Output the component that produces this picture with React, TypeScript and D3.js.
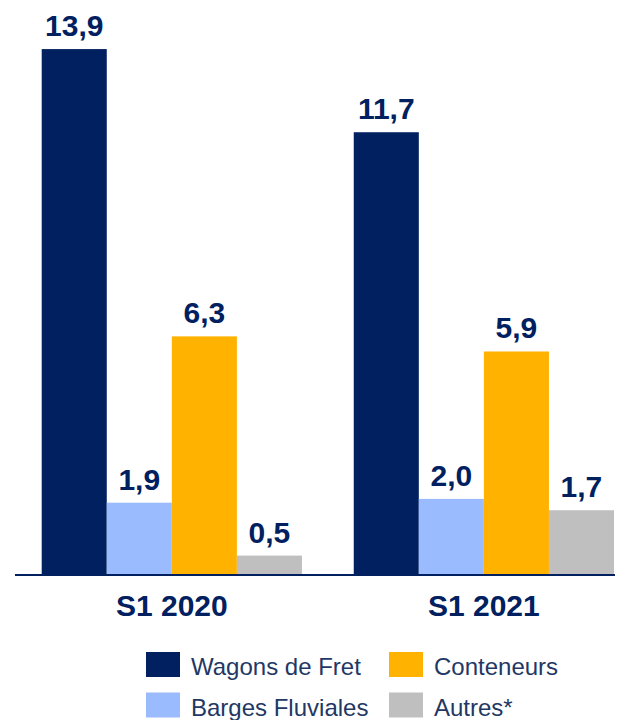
import React from "react";
import * as d3 from "d3";

const categories = ["S1 2020", "S1 2021"];
const seriesNames = ["Wagons de Fret", "Barges Fluviales", "Conteneurs", "Autres*"];
const seriesColors = ["#002060", "#9BBBFF", "#FFB300", "#BFBFBF"];
const values2020 = [13.9, 1.9, 6.3, 0.5];
const values2021 = [11.7, 2.0, 5.9, 1.7];
const valuesByCategory = [values2020, values2021];

const W = 621;
const H = 720;
const NAVY = "#002060";
const FONT = "'Liberation Sans', Arial, sans-serif";

export default function App() {
  const baseY = 574.5;
  const x0 = d3.scaleBand<string>().domain(categories).range([41.7, 614]).paddingInner(0.166).paddingOuter(0);
  const x1 = d3.scaleBand<string>().domain(seriesNames).range([0, x0.bandwidth()]).padding(0);
  const y = d3.scaleLinear().domain([0, 14]).range([baseY, baseY - 14 * 37.8]);
  const fmt = (v: number) => d3.format(".1f")(v).replace(".", ",");

  const legendItems = [
    { i: 0, x: 146, y: 652 },
    { i: 2, x: 389, y: 652 },
    { i: 1, x: 146, y: 692.5 },
    { i: 3, x: 389, y: 692.5 },
  ];

  return (
    <svg width={W} height={H} style={{ position: "absolute", left: 0, top: 0 }} fontFamily={FONT}>
      <rect width={W} height={H} fill="#fff" />
      {categories.map((c, ci) => (
        <g key={c} transform={`translate(${x0(c)},0)`}>
          {seriesNames.map((s, si) => {
            const v = valuesByCategory[ci][si];
            const bx = x1(s)!;
            return (
              <g key={s}>
                <rect x={bx} y={y(v)} width={x1.bandwidth()} height={baseY - y(v)} fill={seriesColors[si]} />
                <text
                  x={bx + x1.bandwidth() / 2}
                  y={y(v) - 13}
                  textAnchor="middle"
                  fontSize={30}
                  fontWeight="bold"
                  fill={NAVY}
                >
                  {fmt(v)}
                </text>
              </g>
            );
          })}
          <text
            x={x0.bandwidth() / 2}
            y={616}
            textAnchor="middle"
            fontSize={30}
            fontWeight="bold"
            fill={NAVY}
          >
            {c}
          </text>
        </g>
      ))}
      <line x1={15} x2={615} y1={baseY + 0.5} y2={baseY + 0.5} stroke={NAVY} strokeWidth={2} />
      {legendItems.map((it) => (
        <g key={it.i}>
          <rect x={it.x} y={it.y} width={34} height={25} fill={seriesColors[it.i]} />
          <text x={it.x + 45} y={it.y + 23} fontSize={24} fill="#1F3864">
            {seriesNames[it.i]}
          </text>
        </g>
      ))}
    </svg>
  );
}
